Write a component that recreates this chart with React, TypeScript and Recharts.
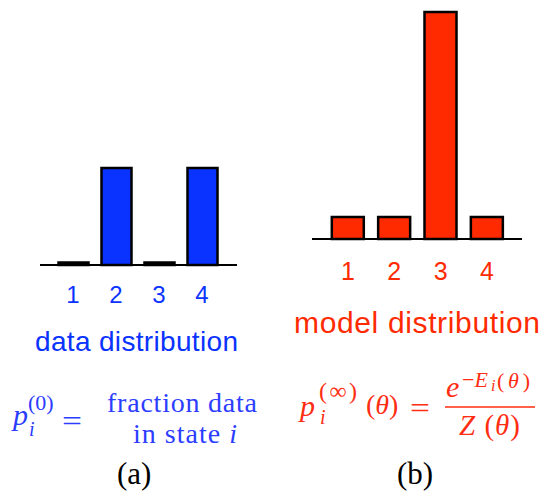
import { BarChart, Bar, XAxis, YAxis } from "recharts";

const states = ["1", "2", "3", "4"];
const dataValues = [0.012, 0.48, 0.012, 0.48];
const modelValues = [0.075, 0.075, 0.775, 0.075];

const BLUE = "#0a33ff";
const RED = "#ff2a00";
const BLUE_TEXT = "#2b3dff";
const RED_TEXT = "#ff2d12";

const dataRows = states.map((s, i) => ({ state: s, p: dataValues[i] }));
const modelRows = states.map((s, i) => ({ state: s, p: modelValues[i] }));

const sans = "'Liberation Sans', Arial, sans-serif";
const serif = "'Liberation Serif', 'Times New Roman', serif";

export default function App() {
  return (
    <div style={{ position: "absolute", left: 0, top: 0, width: 543, height: 492, background: "#fff" }}>
      <div style={{ position: "absolute", left: 0, top: 0 }}>
        <BarChart
          width={270}
          height={320}
          data={dataRows}
          margin={{ top: 164, right: 33, bottom: 25, left: 40 }}
          style={{ fontFamily: sans }}
        >
          <XAxis
            dataKey="state"
            padding={{ left: 11.5, right: 13.5 }}
            axisLine={{ stroke: "#000", strokeWidth: 2 }}
            tickLine={false}
            tickSize={0}
            tickMargin={21}
            tick={{ fill: BLUE, fontSize: 24, fontFamily: sans }}
          />
          <YAxis hide domain={[0, 0.5]} />
          <Bar dataKey="p" fill={BLUE} stroke="#000" strokeWidth={2.5} barSize={30} isAnimationActive={false} />
        </BarChart>
      </div>

      <div style={{ position: "absolute", left: 270, top: 0 }}>
        <BarChart
          width={273}
          height={300}
          data={modelRows}
          margin={{ top: 4.7, right: 21, bottom: 31, left: 42 }}
          style={{ fontFamily: sans }}
        >
          <XAxis
            dataKey="state"
            padding={{ left: 12.8, right: 11.8 }}
            axisLine={{ stroke: "#000", strokeWidth: 2 }}
            tickLine={false}
            tickSize={0}
            tickMargin={23}
            tick={{ fill: RED, fontSize: 25, fontFamily: sans }}
          />
          <YAxis hide domain={[0, 0.8]} />
          <Bar dataKey="p" fill={RED} stroke="#000" strokeWidth={2.5} barSize={32} isAnimationActive={false} />
        </BarChart>
      </div>

      {/* titles, formulas and panel letters */}
      <svg width={543} height={492} style={{ position: "absolute", left: 0, top: 0, pointerEvents: "none" }}>
        <text x={35} y={351} fill={BLUE} fontFamily={sans} fontSize={28} textLength={203} lengthAdjust="spacing">
          data distribution
        </text>
        <text x={294} y={333} fill={RED} fontFamily={sans} fontSize={30} textLength={246} lengthAdjust="spacing">
          model distribution
        </text>

        <g fill={BLUE_TEXT} fontFamily={serif}>
          <text x={13} y={425} fontSize={30} fontStyle="italic">p</text>
          <text x={28} y={410} fontSize={22}>(0)</text>
          <text x={29} y={436} fontSize={20} fontStyle="italic">i</text>
          <text x={62} y={431} fontSize={30} textLength={20} lengthAdjust="spacingAndGlyphs">=</text>
          <text x={107} y={412} fontSize={28} textLength={150} lengthAdjust="spacing">fraction data</text>
          <text x={133} y={443} fontSize={28} textLength={104} lengthAdjust="spacing">
            in state <tspan fontStyle="italic">i</tspan>
          </text>
        </g>

        <g fill={RED_TEXT} fontFamily={serif}>
          <text x={300} y={416} fontSize={30} fontStyle="italic">p</text>
          <text x={319} y={399} fontSize={24} textLength={38} lengthAdjust="spacing">(∞)</text>
          <text x={320} y={424} fontSize={20} fontStyle="italic">i</text>
          <text x={366} y={414} fontSize={28}>
            (<tspan fontStyle="italic">θ</tspan>)
          </text>
          <text x={410} y={418} fontSize={30} textLength={20} lengthAdjust="spacingAndGlyphs">=</text>
          <text x={446} y={397} fontSize={30} fontStyle="italic">e</text>
          <text x={462} y={387} fontSize={22}>
            −<tspan fontStyle="italic">E</tspan>
          </text>
          <text x={491} y={391} fontSize={16} fontStyle="italic">i</text>
          <text x={497} y={388} fontSize={22} textLength={33} lengthAdjust="spacing">
            (<tspan fontStyle="italic">θ</tspan>)
          </text>
          <line x1={445} x2={535} y1={407} y2={407} stroke={RED_TEXT} strokeWidth={1.4} />
          <text x={459} y={435} fontSize={29} textLength={61} lengthAdjust="spacing">
            <tspan fontStyle="italic">Z</tspan> (<tspan fontStyle="italic">θ</tspan>)
          </text>
        </g>

        <text x={117} y={484} fontFamily={serif} fontSize={31} fill="#000">(a)</text>
        <text x={397} y={484} fontFamily={serif} fontSize={31} fill="#000">(b)</text>
      </svg>
    </div>
  );
}
